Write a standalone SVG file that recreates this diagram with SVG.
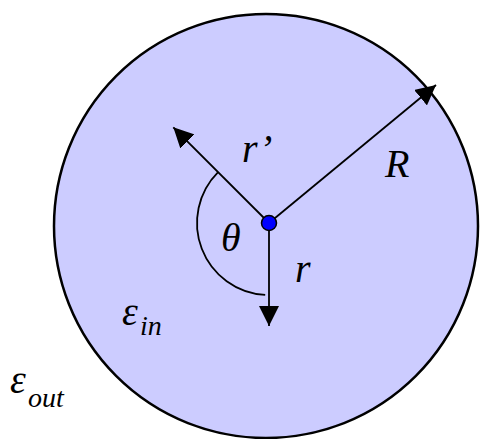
<svg xmlns="http://www.w3.org/2000/svg" width="480" height="439" viewBox="0 0 480 439">
  <style>
    text { font-family: 'Liberation Serif', 'DejaVu Serif', 'Times New Roman', serif; font-style: italic; font-size: 40px; fill: #000; }
    .sub { font-size: 28px; }
    .conn { stroke: #000; stroke-width: 1.8; fill: none; }
  </style>
  <defs>
    <marker id="head" markerUnits="userSpaceOnUse" markerWidth="20" markerHeight="20" refX="20" refY="10" orient="auto" viewBox="0 0 20 20">
      <path d="M0,0 L20,10 L0,20 z" fill="#000"/>
    </marker>
  </defs>
  <rect width="480" height="439" fill="#fff"/>
  <g id="sphere">
    <circle cx="266" cy="226" r="212" fill="#ccccff" stroke="#000" stroke-width="2.5"/>
  </g>
  <g id="connectors">
    <line class="conn" x1="269" y1="223" x2="173.3" y2="127.3" marker-end="url(#head)"/>
    <line class="conn" x1="269" y1="223" x2="436" y2="85" marker-end="url(#head)"/>
    <line class="conn" x1="269" y1="223" x2="269" y2="326" marker-end="url(#head)"/>
    <path class="conn" d="M218.1,172.1 A72,72 0 0 0 265.2,294.9"/>
  </g>
  <g id="charge">
    <circle cx="269" cy="223" r="7.5" fill="#0000ff" stroke="#000" stroke-width="1.5"/>
  </g>
  <g id="labels">
    <text x="242" y="162">r’</text>
    <text x="385" y="177">R</text>
    <text x="221" y="251">θ</text>
    <text x="295" y="282">r</text>
    <text x="122" y="325">ε<tspan class="sub" x="140" y="335">in</tspan></text>
    <text x="10" y="393">ε<tspan class="sub" x="28" y="407">out</tspan></text>
  </g>
</svg>
